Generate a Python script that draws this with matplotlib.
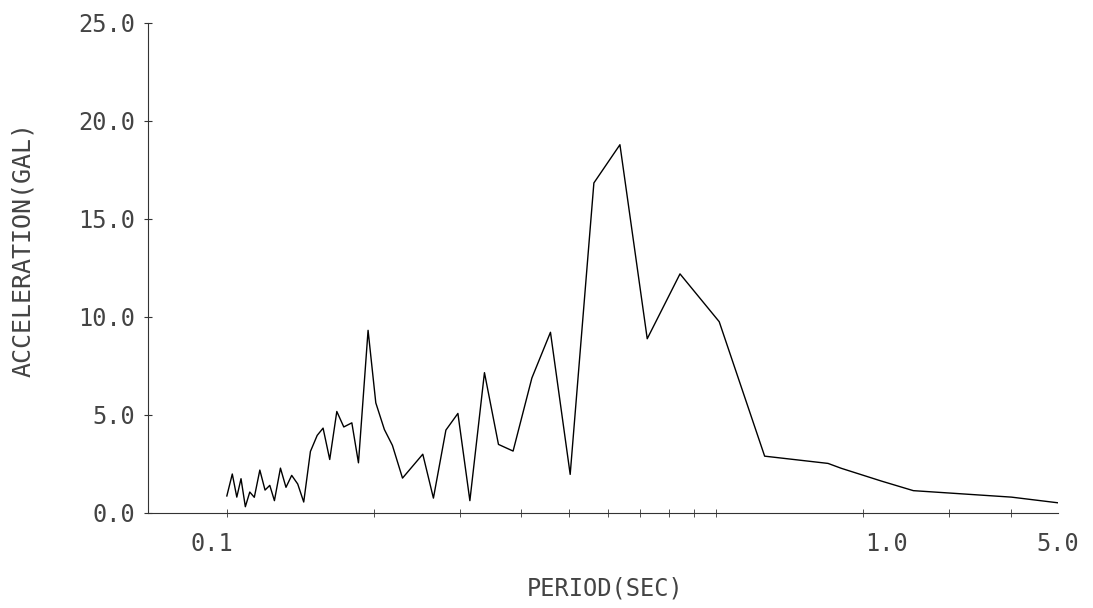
import matplotlib.pyplot as plt
from matplotlib.ticker import FixedLocator, NullFormatter

# periodo (s) e aceleracao (gal)
periodo = [0.100, 0.1026, 0.1048, 0.1069, 0.1091, 0.1114, 0.1138, 0.1168,
           0.1197, 0.1224, 0.1251, 0.1287, 0.1321, 0.1357, 0.1396, 0.1436,
           0.1482, 0.1530, 0.1573, 0.1623, 0.1678, 0.1734, 0.1801, 0.1858,
           0.1944, 0.2016, 0.2099, 0.2180, 0.2286, 0.2515, 0.2644, 0.2804,
           0.2967, 0.3139, 0.3362, 0.3591, 0.3847, 0.4203, 0.4587, 0.5033,
           0.5627, 0.6361, 0.7233, 0.8439, 1.015, 1.257, 1.694, 1.803,
           2.177, 2.531, 4.016, 5.0]
aceleracao = [0.87, 1.99, 0.81, 1.75, 0.32, 1.07, 0.80, 2.19,
              1.17, 1.41, 0.63, 2.29, 1.31, 1.92, 1.48, 0.56,
              3.14, 3.96, 4.33, 2.73, 5.18, 4.39, 4.60, 2.56,
              9.32, 5.62, 4.26, 3.45, 1.78, 3.00, 0.76, 4.23,
              5.08, 0.63, 7.16, 3.50, 3.16, 6.89, 9.22, 1.97,
              16.84, 18.79, 8.89, 12.20, 9.76, 2.90, 2.53, 2.28,
              1.63, 1.14, 0.81, 0.52]

yticks = [0, 5, 10, 15, 20, 25]
ytick_labels = ['0.0', '5.0', '10.0', '15.0', '20.0', '25.0']
xtick_pos = [0.093, 2.23, 5.0]
xtick_labels = ['0.1', '1.0', '5.0']
xminor = [0.1, 0.2, 0.3, 0.4, 0.5, 0.6, 0.7, 0.8, 0.9, 1.0, 2.0, 3.0, 4.0, 5.0]

fonte = 'DejaVu Sans Mono'
cor_texto = '#444444'

fig = plt.figure(figsize=(10.93, 6.08), dpi=100)
ax = fig.add_axes([148 / 1093, 1 - 513 / 608, (1058 - 148) / 1093, (513 - 23) / 608])

ax.plot(periodo, aceleracao, color='black', lw=1.0)

ax.set_xscale('log')
ax.set_xlim(0.069, 5.0)
ax.set_ylim(0, 25)

for s in ['top', 'right']:
    ax.spines[s].set_visible(False)
for s in ['left', 'bottom']:
    ax.spines[s].set_color('#333333')
    ax.spines[s].set_linewidth(0.8)

ax.xaxis.set_major_locator(FixedLocator(xtick_pos))
ax.set_xticklabels(xtick_labels)
ax.xaxis.set_minor_locator(FixedLocator(xminor))
ax.xaxis.set_minor_formatter(NullFormatter())
ax.tick_params(axis='x', which='major', length=0, pad=14)
ax.tick_params(axis='x', which='minor', length=6, direction='inout', color='#333333')

ax.set_yticks(yticks)
ax.set_yticklabels(ytick_labels)
ax.tick_params(axis='y', length=6, direction='inout', color='#333333', pad=6)

for lab in ax.get_xticklabels() + ax.get_yticklabels():
    lab.set_fontfamily(fonte)
    lab.set_fontsize(17)
    lab.set_color(cor_texto)

ax.set_xlabel('PERIOD(SEC)', fontfamily=fonte, fontsize=17, color=cor_texto)
ax.set_ylabel('ACCELERATION(GAL)', fontfamily=fonte, fontsize=18, color=cor_texto)
ax.xaxis.set_label_coords(0.502, -0.13)
ax.yaxis.set_label_coords(-0.124, 0.537)

plt.savefig('out.png', dpi=100)
plt.close()
